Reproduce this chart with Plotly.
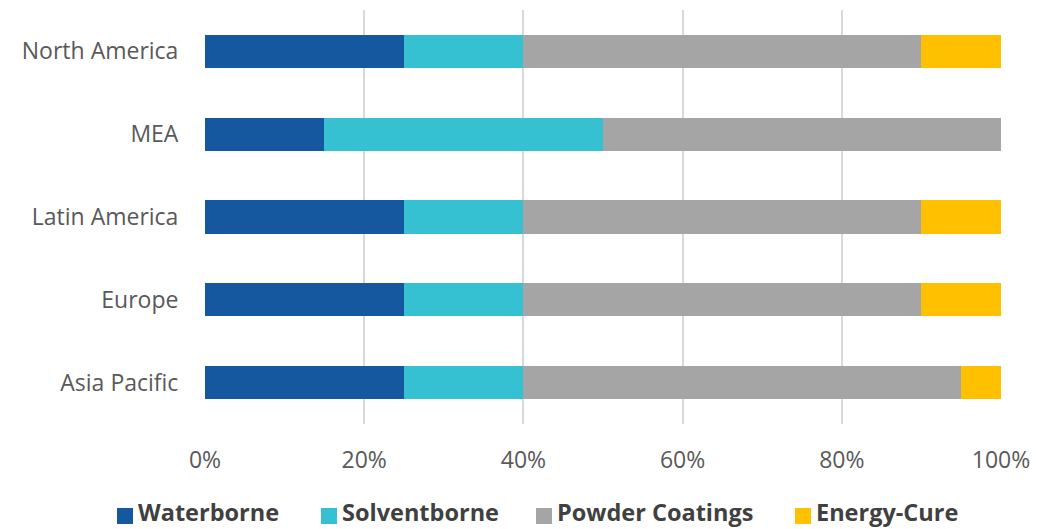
import plotly.graph_objects as go

regions = ["Asia Pacific", "Europe", "Latin America", "MEA", "North America"]
waterborne = [25, 25, 25, 15, 25]
solventborne = [15, 15, 15, 35, 15]
powder = [55, 50, 50, 50, 50]
energy = [5, 10, 10, 0, 10]
series_names = ["Waterborne", "Solventborne", "Powder Coatings", "Energy-Cure"]
colors = ["#1558A0", "#35C1D1", "#A5A5A5", "#FFC000"]
x_ticks = [0, 20, 40, 60, 80, 100]
x_tick_labels = ["0%", "20%", "40%", "60%", "80%", "100%"]

W, H = 1056, 529
L, R, T, B = 205, 55, 10, 105
PW, PH = W - L - R, H - T - B

fig = go.Figure()
for name, vals, c in zip(series_names, [waterborne, solventborne, powder, energy], colors):
    fig.add_trace(go.Bar(y=regions, x=vals, name=name, orientation="h",
                         marker=dict(color=c, line=dict(width=0)), showlegend=False))

# manual legend (pixel layout converted to paper coords)
legend_px = [117, 321, 536, 795]
sq = 16
sq_cy = 516
txt_cy = 512
def px_x(px):
    return (px - L) / PW
def px_y(py):
    return (H - B - py) / PH
for name, c, x0 in zip(series_names, colors, legend_px):
    fig.add_shape(type="rect", xref="paper", yref="paper",
                  x0=px_x(x0), x1=px_x(x0 + sq), y0=px_y(sq_cy + sq / 2), y1=px_y(sq_cy - sq / 2),
                  fillcolor=c, line=dict(width=0))
    fig.add_annotation(xref="paper", yref="paper", x=px_x(x0 + sq + 4), y=px_y(txt_cy),
                       text="<b>" + name + "</b>", showarrow=False, xanchor="left", yanchor="middle",
                       borderpad=0,
                       font=dict(family="Open Sans", size=23.5, color="#404040"))

fig.update_layout(
    barmode="stack", bargap=0.6,
    width=W, height=H,
    margin=dict(l=L, r=R, t=T, b=B),
    paper_bgcolor="white", plot_bgcolor="white",
    font=dict(family="Open Sans", size=23, color="#595959"),
    xaxis=dict(range=[0, 100], tickvals=x_ticks, ticktext=x_tick_labels,
               showgrid=True, gridcolor="#D9D9D9", gridwidth=1.5,
               zeroline=False, showline=False,
               ticks="outside", ticklen=15, tickcolor="rgba(0,0,0,0)",
               tickfont=dict(size=23, color="#595959")),
    yaxis=dict(showgrid=False, zeroline=False, showline=False,
               ticks="outside", ticklen=21, tickcolor="rgba(0,0,0,0)",
               tickfont=dict(size=23, color="#595959")),
    showlegend=False,
)
fig.write_html("out.html")
